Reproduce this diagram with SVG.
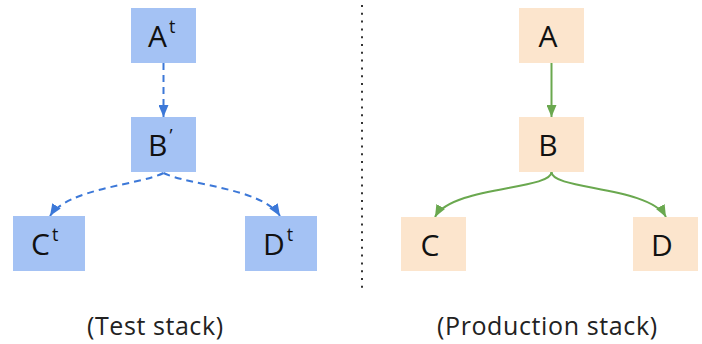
<svg xmlns="http://www.w3.org/2000/svg" width="702" height="344" viewBox="0 0 702 344">
<style>
.t{font-family:"Open Sans","Liberation Sans",sans-serif;fill:#111;}
.n{font-size:30px;}
.s{font-size:18px;}
.lbl{font-size:25px;fill:#222;text-anchor:middle;}
.bt{fill:#a4c2f4;}
.pr{fill:#fce5cd;}
.be{fill:none;stroke:#3c78d8;stroke-width:2;stroke-dasharray:7 5;}
.ge{fill:none;stroke:#6aa84f;stroke-width:2;}
</style>
<defs>
<marker id="ab" viewBox="0 0 12 10" refX="12" refY="5" markerWidth="12" markerHeight="10" markerUnits="userSpaceOnUse" orient="auto">
<path d="M0,0 L12,5 L0,10 z" fill="#3c78d8"/>
</marker>
<marker id="ag" viewBox="0 0 12 10" refX="12" refY="5" markerWidth="12" markerHeight="10" markerUnits="userSpaceOnUse" orient="auto">
<path d="M0,0 L12,5 L0,10 z" fill="#6aa84f"/>
</marker>
</defs>
<g id="connectors">
<path class="be" d="M163.5,63 L163.5,117" marker-end="url(#ab)"/>
<path class="be" d="M163.5,173 C140,185 68,188 50,216" marker-end="url(#ab)"/>
<path class="be" d="M163.5,173 C187,185 262,188 280,216" marker-end="url(#ab)"/>
<path class="ge" d="M551.5,63 L551.5,117" marker-end="url(#ag)"/>
<path class="ge" d="M551.5,172 C551.5,190 452,186 435,217" marker-end="url(#ag)"/>
<path class="ge" d="M551.5,172 C551.5,190 649,186 666,217" marker-end="url(#ag)"/>
</g>
<line id="divider" x1="362" y1="5" x2="362" y2="288" stroke="#333" stroke-width="2" stroke-dasharray="2 5.8"/>
<g id="At"><rect class="bt" x="131" y="8" width="65" height="55"/><text class="t n" x="148" y="47">A<tspan class="s" dx="2" dy="-14">t</tspan></text></g>
<g id="Bp"><rect class="bt" x="131" y="117" width="65" height="55"/><text class="t n" x="148" y="156">B<tspan class="s" dx="2" dy="-14">’</tspan></text></g>
<g id="Ct"><rect class="bt" x="13" y="216" width="72" height="55"/><text class="t n" x="31" y="255">C<tspan class="s" dx="2" dy="-14">t</tspan></text></g>
<g id="Dt"><rect class="bt" x="245" y="216" width="72" height="55"/><text class="t n" x="263" y="255">D<tspan class="s" dx="2" dy="-14">t</tspan></text></g>
<g id="A"><rect class="pr" x="519" y="8" width="65" height="55"/><text class="t n" x="548" y="47" text-anchor="middle">A</text></g>
<g id="B"><rect class="pr" x="519" y="117" width="65" height="55"/><text class="t n" x="548" y="156" text-anchor="middle">B</text></g>
<g id="C"><rect class="pr" x="401" y="217" width="65" height="54"/><text class="t n" x="430" y="256" text-anchor="middle">C</text></g>
<g id="D"><rect class="pr" x="633" y="217" width="65" height="54"/><text class="t n" x="662" y="256" text-anchor="middle">D</text></g>
<text class="t lbl" x="155" y="335" textLength="136">(Test stack)</text>
<text class="t lbl" x="547" y="335" textLength="220">(Production stack)</text>
</svg>
